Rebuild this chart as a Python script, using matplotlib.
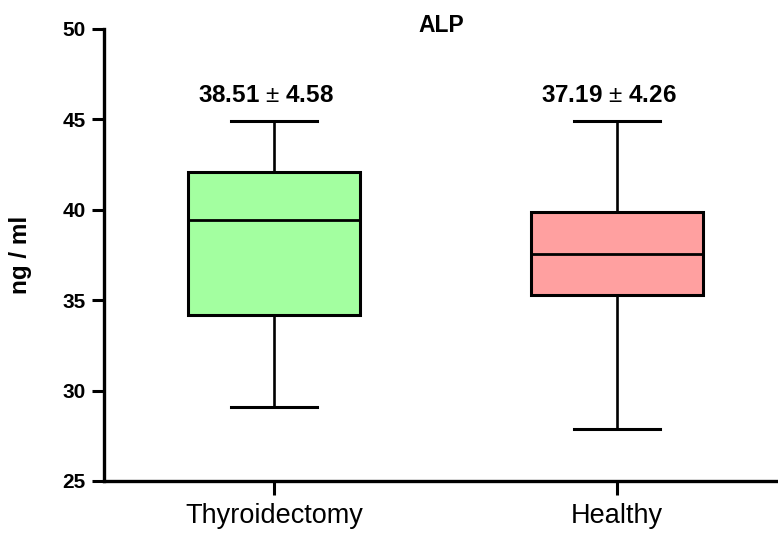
import matplotlib
matplotlib.use("Agg")
import matplotlib.pyplot as plt

plt.rcParams['font.family'] = ['Liberation Sans', 'DejaVu Sans']
plt.rcParams['mathtext.fontset'] = 'custom'
plt.rcParams['mathtext.rm'] = 'Liberation Sans'
plt.rcParams['mathtext.bf'] = 'Liberation Sans:bold'

categories = ["Thyroidectomy", "Healthy"]
whislo = [29.1, 27.9]
q1 = [34.2, 35.3]
med = [39.45, 37.55]
q3 = [42.1, 39.9]
whishi = [44.9, 44.9]
means = ["38.51", "37.19"]
sds = ["4.58", "4.26"]
colors = ["#A3FFA0", "#FFA0A0"]
title = "ALP"
ylabel = "ng / ml"
yticks = [25, 30, 35, 40, 45, 50]

fig = plt.figure(figsize=(7.78, 5.33), dpi=100)
ax = fig.add_axes([104/778, 1-481/533, 1-104/778, (481-29)/533])

stats = []
for i in range(len(categories)):
    stats.append(dict(whislo=whislo[i], q1=q1[i], med=med[i], q3=q3[i],
                      whishi=whishi[i], label=categories[i]))
positions = [1, 2]
bp = ax.bxp(stats, positions=positions, widths=0.5, patch_artist=True,
            showfliers=False, capwidths=0.25,
            boxprops=dict(linewidth=2.2, edgecolor='black'),
            medianprops=dict(color='black', linewidth=2.0),
            whiskerprops=dict(color='black', linewidth=1.9),
            capprops=dict(color='black', linewidth=2.2))
for patch, c in zip(bp['boxes'], colors):
    patch.set_facecolor(c)

for i, p in enumerate(positions):
    ax.annotate(r'$\mathbf{%s}$ $\pm$ $\mathbf{%s}$' % (means[i], sds[i]),
                xy=(p, 46.3), xytext=(-6, 0), textcoords='offset points',
                ha='center', va='center', fontsize=17.5)

ax.set_ylim(25, 50)
ax.set_xlim(0.504, 2.47)
ax.set_yticks(yticks)
ax.set_yticklabels([str(t) for t in yticks], fontweight='bold', fontsize=15)
ax.set_xticks(positions)
ax.set_xticklabels(categories, fontsize=19.5)
ax.tick_params(axis='y', length=9, width=2.2, pad=4)
ax.tick_params(axis='x', length=10, width=2.2, pad=6)
for s in ['top', 'right']:
    ax.spines[s].set_visible(False)
for s in ['left', 'bottom']:
    ax.spines[s].set_linewidth(2.4)

ax.set_ylabel(ylabel, fontsize=17.5, fontweight='bold', labelpad=22)
fig.text((104+778)/2/778, 1-25/533, title, ha='center', va='center',
         fontsize=16.5, fontweight='bold')

fig.savefig("out.png", dpi=100)
